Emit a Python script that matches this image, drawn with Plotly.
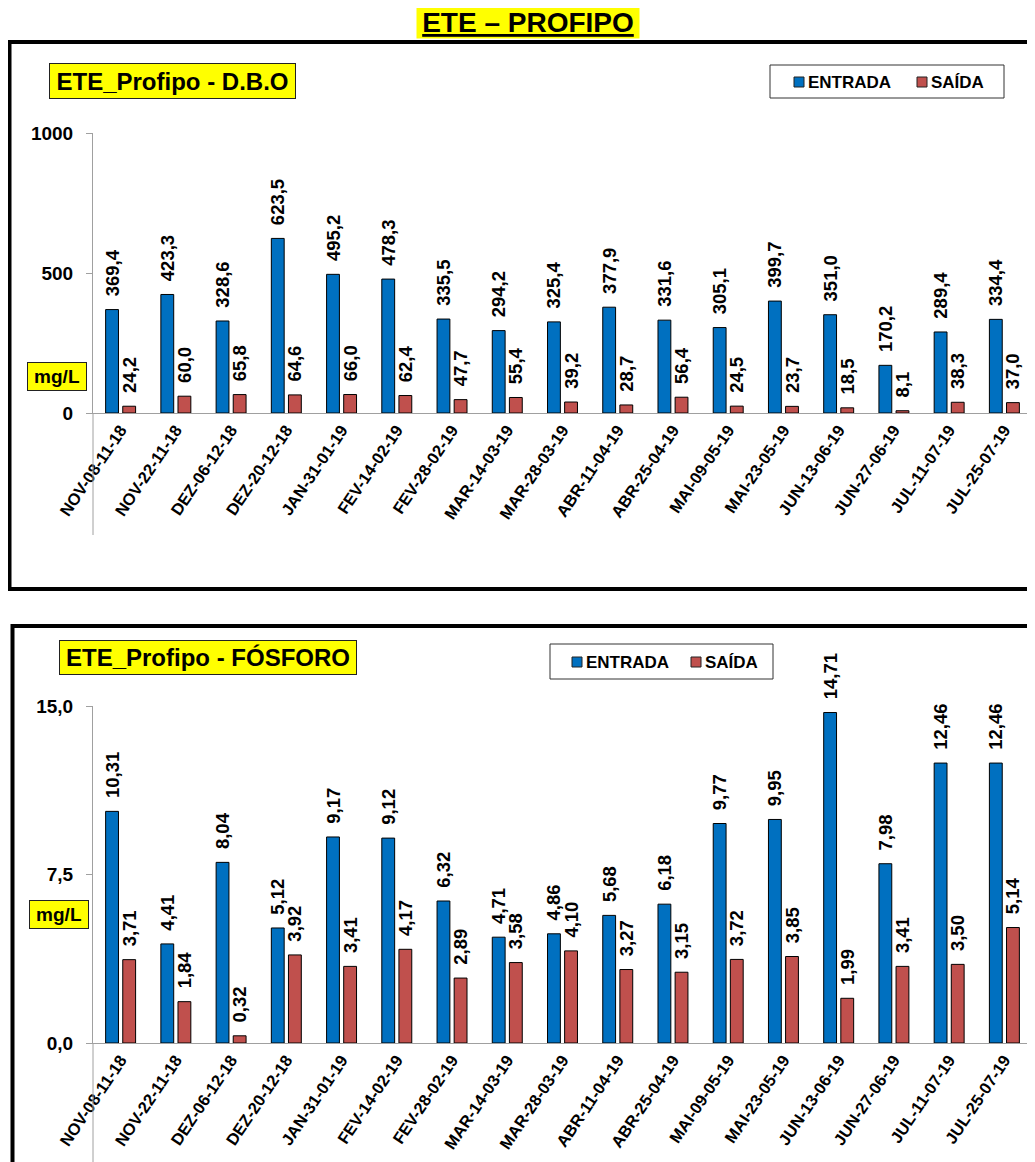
import plotly.graph_objects as go

W, H = 1035, 1162
OFF = 8  # page body margin of the browser

categories = ["NOV-08-11-18", "NOV-22-11-18", "DEZ-06-12-18", "DEZ-20-12-18", "JAN-31-01-19",
              "FEV-14-02-19", "FEV-28-02-19", "MAR-14-03-19", "MAR-28-03-19", "ABR-11-04-19",
              "ABR-25-04-19", "MAI-09-05-19", "MAI-23-05-19", "JUN-13-06-19", "JUN-27-06-19",
              "JUL-11-07-19", "JUL-25-07-19"]
series_names = ["ENTRADA", "SAÍDA"]
dbo_entrada = [369.4, 423.3, 328.6, 623.5, 495.2, 478.3, 335.5, 294.2, 325.4, 377.9,
               331.6, 305.1, 399.7, 351.0, 170.2, 289.4, 334.4]
dbo_saida = [24.2, 60.0, 65.8, 64.6, 66.0, 62.4, 47.7, 55.4, 39.2, 28.7,
             56.4, 24.5, 23.7, 18.5, 8.1, 38.3, 37.0]
fosf_entrada = [10.31, 4.41, 8.04, 5.12, 9.17, 9.12, 6.32, 4.71, 4.86, 5.68,
                6.18, 9.77, 9.95, 14.71, 7.98, 12.46, 12.46]
fosf_saida = [3.71, 1.84, 0.32, 3.92, 3.41, 4.17, 2.89, 3.58, 4.10, 3.27,
              3.15, 3.72, 3.85, 1.99, 3.41, 3.50, 5.14]
dbo_tickvals = [0, 500, 1000]
dbo_ticktext = ["0", "500", "1000"]
fosf_tickvals = [0, 7.5, 15]
fosf_ticktext = ["0,0", "7,5", "15,0"]

main_title = "ETE – PROFIPO"
title_dbo = "ETE_Profipo - D.B.O"
title_fosf = "ETE_Profipo - FÓSFORO"
unit = "mg/L"

BLUE = "#0070C0"
RED = "#C0504D"
FONT = "Liberation Sans, Arial, sans-serif"


def px(x):
    return (x - OFF) / W


def py(y):
    return 1 - (y - OFF) / H


def fmt(v, d):
    return "\u00a0\u00a0" + f"{v:.{d}f}".replace(".", ",")


fig = go.Figure()


def add_bars(vals, color, name, xa, ya, d):
    fig.add_trace(go.Bar(
        x=categories, y=vals, name=name, xaxis=xa, yaxis=ya,
        marker=dict(color=color, line=dict(color="#000000", width=1)),
        text=[fmt(v, d) for v in vals], textposition="outside", textangle=-90,
        textfont=dict(family=FONT, size=18.5, color="black", weight="bold"),
        constraintext="none", cliponaxis=False, showlegend=False,
    ))


add_bars(dbo_entrada, BLUE, series_names[0], "x", "y", 1)
add_bars(dbo_saida, RED, series_names[1], "x", "y", 1)
add_bars(fosf_entrada, BLUE, series_names[0], "x2", "y2", 2)
add_bars(fosf_saida, RED, series_names[1], "x2", "y2", 2)

xdom = [px(93), px(1032)]
axis_common = dict(showline=True, linecolor="#A0A0A0", linewidth=1, showgrid=False,
                   zeroline=False, automargin=False)
xcommon = dict(axis_common, ticks="", tickangle=-56,
               tickfont=dict(family=FONT, size=16.5, color="black", weight="bold"))
ycommon = dict(axis_common, ticks="outside", ticklen=6, tickcolor="#A0A0A0",
               ticklabelstandoff=9,
               tickfont=dict(family=FONT, size=19, color="black", weight="bold"))

fig.update_layout(
    template="none",
    width=W, height=H, margin=dict(l=0, r=0, t=0, b=0, autoexpand=False),
    paper_bgcolor="white", plot_bgcolor="white",
    barmode="group", bargap=0.38, bargroupgap=0.25,
    xaxis=dict(xcommon, domain=xdom, anchor="y"),
    yaxis=dict(ycommon, domain=[py(413), py(133)], range=[0, 1000],
               tickvals=dbo_tickvals, ticktext=dbo_ticktext, anchor="x"),
    xaxis2=dict(xcommon, domain=xdom, anchor="y2"),
    yaxis2=dict(ycommon, domain=[py(1043), py(706)], range=[0, 15],
                tickvals=fosf_tickvals, ticktext=fosf_ticktext, anchor="x2"),
)

shapes = []
# outer frames
shapes.append(dict(type="rect", xref="paper", yref="paper", x0=px(9.5), x1=px(1060),
                   y0=py(42), y1=py(589), line=dict(color="black", width=4)))
shapes.append(dict(type="rect", xref="paper", yref="paper", x0=px(12.5), x1=px(1060),
                   y0=py(626), y1=py(1200), line=dict(color="black", width=4)))
# plot-area side lines
for (x, y0, y1) in [(93, 413, 535), (1032, 413, 535), (93, 1043, 1190), (1032, 1043, 1190)]:
    shapes.append(dict(type="line", xref="paper", yref="paper", x0=px(x), x1=px(x),
                       y0=py(y0), y1=py(y1), line=dict(color="#A0A0A0", width=1)))

annotations = []


def legend(box, items, ycen):
    x0, y0, x1, y1 = box
    shapes.append(dict(type="rect", xref="paper", yref="paper", x0=px(x0), x1=px(x1),
                       y0=py(y0), y1=py(y1), line=dict(color="#333333", width=1),
                       fillcolor="white"))
    for (sx, color, tx, name) in items:
        shapes.append(dict(type="rect", xref="paper", yref="paper", x0=px(sx), x1=px(sx + 10),
                           y0=py(ycen - 5), y1=py(ycen + 5), line=dict(color="#222222", width=1),
                           fillcolor=color))
        annotations.append(dict(x=px(tx), y=py(ycen), xref="paper", yref="paper",
                                text=name, showarrow=False, xanchor="left", yanchor="middle",
                                font=dict(family=FONT, size=17, color="black", weight="bold")))


legend((770, 65, 1004, 98), [(794, BLUE, 806, series_names[0]), (917, RED, 929, series_names[1])], 82)
legend((550, 644, 773, 679), [(572, BLUE, 584, series_names[0]), (691, RED, 703, series_names[1])], 662)


def boxed(text, xc, yc, size, w, h):
    annotations.append(dict(x=px(xc), y=py(yc), xref="paper", yref="paper", text=text,
                            showarrow=False, xanchor="center", yanchor="middle",
                            bgcolor="#FFFF00", bordercolor="#222222", borderwidth=1, borderpad=0,
                            width=w, height=h,
                            font=dict(family=FONT, size=size, color="black", weight="bold")))


boxed(title_dbo, 172.5, 81, 24, 245, 34)
boxed(title_fosf, 208, 657.5, 24, 296, 33)
boxed(unit, 57, 376, 19, 58, 27)
boxed(unit, 59, 914, 19, 58, 27)

annotations.append(dict(x=px(528), y=py(23), xref="paper", yref="paper",
                        text="<u>" + main_title + "</u>", showarrow=False,
                        xanchor="center", yanchor="middle", bgcolor="#FFFF00",
                        borderpad=0, width=222, height=31,
                        font=dict(family=FONT, size=28, color="black", weight="bold")))

fig.update_layout(shapes=shapes, annotations=annotations)
fig.write_html("out.html")
